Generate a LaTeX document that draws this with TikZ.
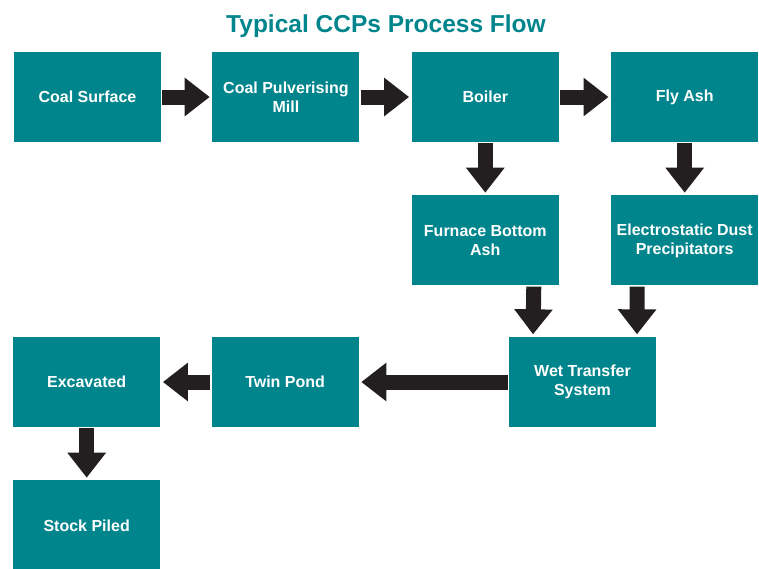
\documentclass[tikz,border=0pt]{standalone}
\usepackage{fontspec}
\setmainfont{Liberation Sans}
\usetikzlibrary{positioning,arrows.meta}
\definecolor{ccpteal}{RGB}{0,133,141}
\definecolor{ccpdark}{RGB}{35,31,32}

\begin{document}
\begin{tikzpicture}[x=1pt,y=-1pt,
  stage/.style={fill=ccpteal,text=white,minimum width=147pt,minimum height=90pt,inner sep=0pt,align=center,font=\fontsize{16}{19}\selectfont\bfseries},
  flow/.style={draw=ccpdark,line width=15pt,-{Triangle[length=25pt,width=37pt]},shorten >=2.5pt,shorten <=1pt}]
\useasboundingbox (0,0) rectangle (759,568);
\node[anchor=base,text=ccpteal,font=\fontsize{24.5}{29}\selectfont\bfseries] (title) at (386,32) {Typical CCPs Process Flow};
\node[stage] (coal) at (87.5,97) {Coal Surface};
\node[stage,right=51pt of coal] (mill) {Coal Pulverising\\Mill};
\node[stage,right=52pt of mill] (boiler) {Boiler};
\node[stage,right=52pt of boiler] (flyash) {Fly Ash};
\node[stage,below=53pt of boiler] (furnace) {Furnace Bottom\\Ash};
\node[stage,below=53pt of flyash] (esp) {Electrostatic Dust\\Precipitators};
\node[stage] (wet) at (582.5,382) {Wet Transfer\\System};
\node[stage,left=150pt of wet] (twin) {Twin Pond};
\node[stage,left=51pt of twin] (excav) {Excavated};
\node[stage,below=53pt of excav] (stock) {Stock Piled};
\draw[flow] (coal) -- (mill);
\draw[flow] (mill) -- (boiler);
\draw[flow] (boiler) -- (flyash);
\draw[flow] (boiler) -- (furnace);
\draw[flow] (flyash) -- (esp);
\draw[flow] ([xshift=48.5pt]furnace.south) -- ([xshift=-49.5pt]wet.north);
\draw[flow] ([xshift=-47.5pt]esp.south) -- ([xshift=54.5pt]wet.north);
\draw[flow] (wet) -- (twin);
\draw[flow] (twin) -- (excav);
\draw[flow] (excav) -- (stock);
\end{tikzpicture}
\end{document}
